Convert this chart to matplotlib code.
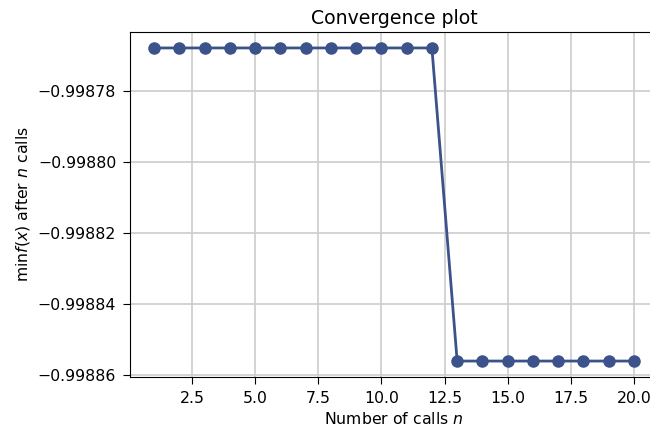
import numpy as np
import matplotlib.pyplot as plt

# convergence data
n_calls = np.arange(1, 21)
min_values = [-0.998768] * 12 + [-0.998856] * 8

plt.rcParams['font.size'] = 11.3

fig = plt.figure(figsize=(6.5, 4.32), dpi=100)
ax = fig.add_axes([130 / 650, 55.3 / 432, 528 / 650, 344.4 / 432])

color = plt.cm.viridis(0.25)
ax.plot(n_calls, min_values, c=color, marker='.', markersize=16, lw=2)

ax.set_title('Convergence plot')
ax.set_xlabel('Number of calls $n$')
ax.set_ylabel(r'$\min f(x)$ after $n$ calls')
ax.grid(True, color='#cccccc', lw=1.2)
ax.set_xticks([2.5, 5.0, 7.5, 10.0, 12.5, 15.0, 17.5, 20.0])
ax.tick_params(length=5, pad=5)

fig.savefig('out.png', dpi=100)
